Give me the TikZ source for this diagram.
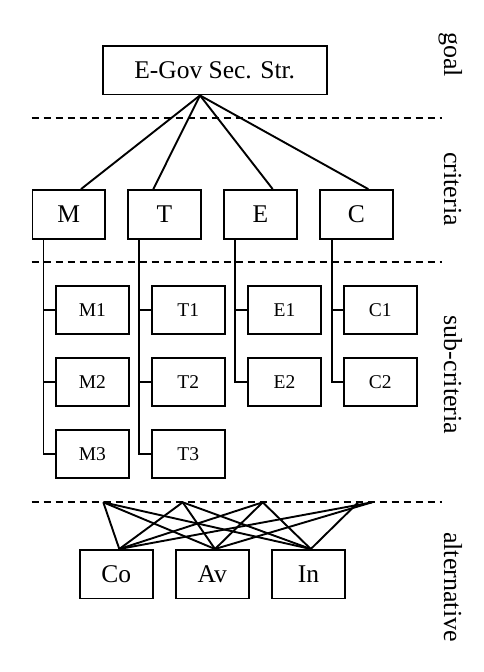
\documentclass[tikz,border=0pt]{standalone}
\usepackage{fontspec}
\setmainfont{Liberation Serif}
\usetikzlibrary{positioning}

\begin{document}
\begin{tikzpicture}[x=1pt,y=-1pt,
  box/.style={draw,line width=1.9pt,minimum width=72.5pt,minimum height=48.5pt,inner sep=0pt,font=\fontsize{25.5}{30}\selectfont},
  subbox/.style={box,minimum height=48pt,font=\fontsize{19.5}{23}\selectfont},
  layer/.style={line width=1.9pt,dash pattern=on 7pt off 5pt},
  side/.style={rotate=-90,anchor=base,font=\fontsize{26}{31}\selectfont},
  link/.style={line width=1.9pt}]

\useasboundingbox (0,0) rectangle (484,672);

\node[box,minimum width=224pt] (goal) at (214.7,70.2) {E-Gov Sec. Str.};

\node[box] (M) at (68.7,214.3) {M};
\node[box] (T) at (164.5,214.3) {T};
\node[box] (E) at (260.5,214.3) {E};
\node[box] (C) at (356.3,214.3) {C};

\node[subbox] (M1) at (92.3,310) {M1};
\node[subbox] (M2) at (92.3,382.2) {M2};
\node[subbox] (M3) at (92.3,454.3) {M3};
\node[subbox] (T1) at (188.3,310) {T1};
\node[subbox] (T2) at (188.3,382.2) {T2};
\node[subbox] (T3) at (188.3,454.3) {T3};
\node[subbox] (E1) at (284.5,310) {E1};
\node[subbox] (E2) at (284.5,382.2) {E2};
\node[subbox] (C1) at (380.3,310) {C1};
\node[subbox] (C2) at (380.3,382.2) {C2};

\node[box] (Co) at (116.3,574.2) {Co};
\node[box] (Av) at (212.3,574.2) {Av};
\node[box] (In) at (308.5,574.2) {In};

\node[side] (goallabel) at (444,54.5) {goal};
\node[side] (critlabel) at (444,189) {criteria};
\node[side] (sublabel) at (444,375) {sub-criteria};
\node[side] (altlabel) at (444,587) {alternative};

\draw[layer] (31.7,117.7) -- (441.7,117.7);
\draw[layer] (31.7,261.7) -- (441.7,261.7);
\draw[layer] (31.7,502.3) -- (441.7,502.3);

\coordinate (top) at ([xshift=-14.7pt]goal.south);
\draw[link] (top) -- ([xshift=12.3pt]M.north);
\draw[link] (top) -- ([xshift=-11.2pt]T.north);
\draw[link] (top) -- ([xshift=12.2pt]E.north);
\draw[link] (top) -- ([xshift=12pt]C.north);

\coordinate (mline) at ([xshift=12pt]M.south west);
\coordinate (tline) at ([xshift=12pt]T.south west);
\coordinate (eline) at ([xshift=12pt]E.south west);
\coordinate (cline) at ([xshift=13pt]C.south west);
\draw[link] (mline) |- (M3.west);
\draw[link] (M1.west) -- (M1.west -| mline);
\draw[link] (M2.west) -- (M2.west -| mline);
\draw[link] (tline) |- (T3.west);
\draw[link] (T1.west) -- (T1.west -| tline);
\draw[link] (T2.west) -- (T2.west -| tline);
\draw[link] (eline) |- (E2.west);
\draw[link] (E1.west) -- (E1.west -| eline);
\draw[link] (cline) |- (C2.west);
\draw[link] (C1.west) -- (C1.west -| cline);

\coordinate (a1) at (103.3,502.3);
\coordinate (a2) at (182.7,502.3);
\coordinate (a3) at (262.7,502.3);
\coordinate (a4) at (358.3,502.3);
\coordinate (a5) at (372,502.3);
\coordinate (co) at ([xshift=3pt]Co.north);
\coordinate (av) at ([xshift=2.7pt]Av.north);
\coordinate (in) at ([xshift=2.3pt]In.north);
\draw[link] (a1) -- (co);
\draw[link] (a1) -- (av);
\draw[link] (a1) -- (in);
\draw[link] (a2) -- (co);
\draw[link] (a2) -- (av);
\draw[link] (a2) -- (in);
\draw[link] (a3) -- (co);
\draw[link] (a3) -- (av);
\draw[link] (a3) -- (in);
\draw[link] (a5) -- (co);
\draw[link] (a5) -- (av);
\draw[link] (a4) -- (in);
\end{tikzpicture}
\end{document}
